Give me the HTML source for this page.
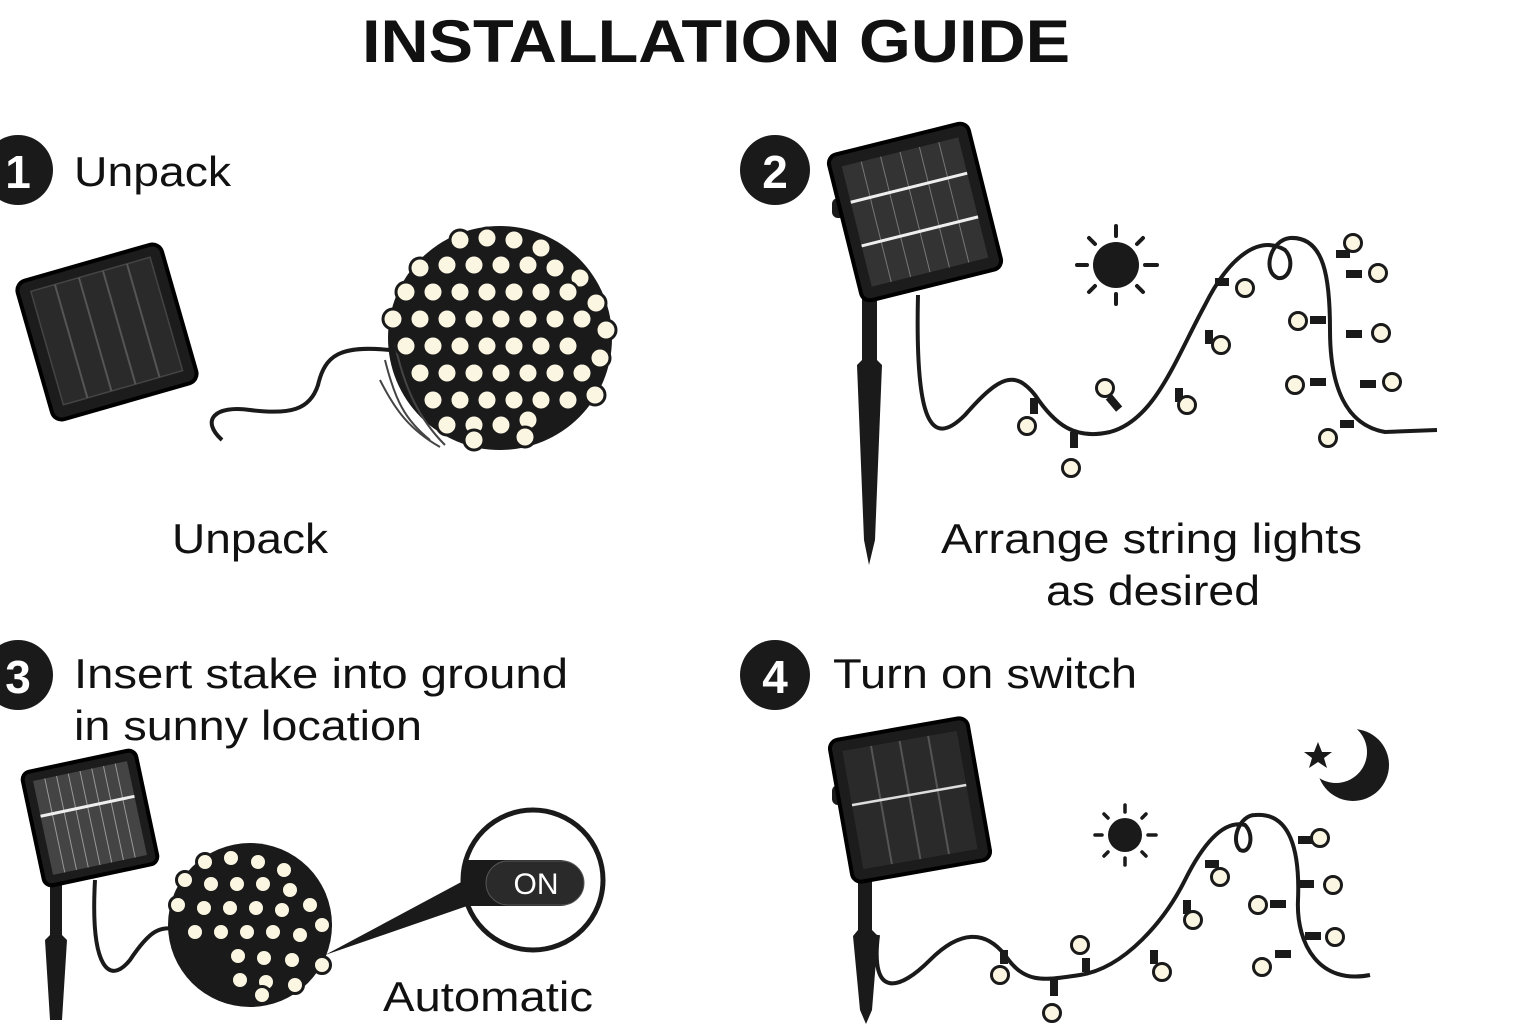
<!DOCTYPE html>
<html><head><meta charset="utf-8"><style>
html,body{margin:0;padding:0;background:#fff;}
svg{display:block;}
text{font-family:"Liberation Sans",Arial,sans-serif;fill:#111;}
</style></head><body>
<svg width="1536" height="1024" viewBox="0 0 1536 1024" xmlns="http://www.w3.org/2000/svg">
<defs>
<g id="bulb"><circle r="10" fill="#fbf6e2" stroke="#1a1a1a" stroke-width="3"/></g>
<g id="sb"><circle r="8.5" fill="#fbf6e2" stroke="#1a1a1a" stroke-width="3"/></g>
</defs>
<rect width="1536" height="1024" fill="#fff"/>
<text x="362" y="62" font-size="60" font-weight="bold" textLength="708" lengthAdjust="spacingAndGlyphs">INSTALLATION GUIDE</text>

<circle cx="18" cy="170" r="35" fill="#1a1a1a"/><text x="18" y="188" text-anchor="middle" font-size="46" style="fill:#fff" font-weight="bold">1</text>
<circle cx="775" cy="170" r="35" fill="#1a1a1a"/><text x="775" y="188" text-anchor="middle" font-size="46" style="fill:#fff" font-weight="bold">2</text>
<circle cx="18" cy="675" r="35" fill="#1a1a1a"/><text x="18" y="693" text-anchor="middle" font-size="46" style="fill:#fff" font-weight="bold">3</text>
<circle cx="775" cy="675" r="35" fill="#1a1a1a"/><text x="775" y="693" text-anchor="middle" font-size="46" style="fill:#fff" font-weight="bold">4</text>

<g font-size="42">
<text x="74" y="186" textLength="157" lengthAdjust="spacingAndGlyphs">Unpack</text>
<text x="172" y="553" textLength="156" lengthAdjust="spacingAndGlyphs">Unpack</text>
<text x="941" y="553" textLength="421" lengthAdjust="spacingAndGlyphs">Arrange string lights</text>
<text x="1046" y="605" textLength="214" lengthAdjust="spacingAndGlyphs">as desired</text>
<text x="74" y="688" textLength="494" lengthAdjust="spacingAndGlyphs">Insert stake into ground</text>
<text x="74" y="740" textLength="348" lengthAdjust="spacingAndGlyphs">in sunny location</text>
<text x="833" y="688" textLength="304" lengthAdjust="spacingAndGlyphs">Turn on switch</text>
<text x="383" y="1011" textLength="210" lengthAdjust="spacingAndGlyphs">Automatic</text>
</g>

<!-- Panel 1 -->
<g transform="translate(107,332) rotate(-16)">
<rect x="-75" y="-72" width="150" height="144" rx="10" fill="#1c1c1c" stroke="#000" stroke-width="4"/>
<rect x="-62" y="-60" width="124" height="118" fill="#2a2a2a" stroke="#444" stroke-width="1.5"/>
<g stroke="#555" stroke-width="2"><line x1="-37" y1="-60" x2="-37" y2="58"/><line x1="-12" y1="-60" x2="-12" y2="58"/><line x1="13" y1="-60" x2="13" y2="58"/><line x1="38" y1="-60" x2="38" y2="58"/></g>
</g>
<path d="M222,440 C200,420 215,405 250,410 C290,415 310,410 318,385 C325,355 340,345 390,350" fill="none" stroke="#1a1a1a" stroke-width="4"/>
<circle cx="500" cy="338" r="112" fill="#1a1a1a"/>
<g stroke="#444" stroke-width="2" fill="none"><path d="M385,360 C395,400 405,420 430,440"/><path d="M395,345 C405,390 420,420 445,445"/><path d="M380,380 C395,410 410,430 440,447"/></g>
<g>
<use href="#bulb" x="460" y="240"/><use href="#bulb" x="487" y="238"/><use href="#bulb" x="514" y="240"/><use href="#bulb" x="541" y="248"/>
<use href="#bulb" x="420" y="268"/><use href="#bulb" x="447" y="265"/><use href="#bulb" x="474" y="265"/><use href="#bulb" x="501" y="265"/><use href="#bulb" x="528" y="265"/><use href="#bulb" x="555" y="268"/><use href="#bulb" x="580" y="278"/>
<use href="#bulb" x="406" y="292"/><use href="#bulb" x="433" y="292"/><use href="#bulb" x="460" y="292"/><use href="#bulb" x="487" y="292"/><use href="#bulb" x="514" y="292"/><use href="#bulb" x="541" y="292"/><use href="#bulb" x="568" y="292"/><use href="#bulb" x="596" y="303"/>
<use href="#bulb" x="393" y="319"/><use href="#bulb" x="420" y="319"/><use href="#bulb" x="447" y="319"/><use href="#bulb" x="474" y="319"/><use href="#bulb" x="501" y="319"/><use href="#bulb" x="528" y="319"/><use href="#bulb" x="555" y="319"/><use href="#bulb" x="582" y="319"/><use href="#bulb" x="606" y="330"/>
<use href="#bulb" x="406" y="346"/><use href="#bulb" x="433" y="346"/><use href="#bulb" x="460" y="346"/><use href="#bulb" x="487" y="346"/><use href="#bulb" x="514" y="346"/><use href="#bulb" x="541" y="346"/><use href="#bulb" x="568" y="346"/><use href="#bulb" x="600" y="358"/>
<use href="#bulb" x="420" y="373"/><use href="#bulb" x="447" y="373"/><use href="#bulb" x="474" y="373"/><use href="#bulb" x="501" y="373"/><use href="#bulb" x="528" y="373"/><use href="#bulb" x="555" y="373"/><use href="#bulb" x="582" y="373"/>
<use href="#bulb" x="433" y="400"/><use href="#bulb" x="460" y="400"/><use href="#bulb" x="487" y="400"/><use href="#bulb" x="514" y="400"/><use href="#bulb" x="541" y="400"/><use href="#bulb" x="568" y="400"/><use href="#bulb" x="595" y="395"/>
<use href="#bulb" x="447" y="425"/><use href="#bulb" x="474" y="425"/><use href="#bulb" x="501" y="425"/><use href="#bulb" x="528" y="420"/><use href="#bulb" x="474" y="440"/><use href="#bulb" x="525" y="437"/>
</g>

<!-- Panel 2 -->
<path d="M862,200 L877,200 L877,360 L882,365 L875,540 L869,565 L864,540 L857,365 L862,360 Z" fill="#1a1a1a"/>
<rect x="832" y="198" width="20" height="20" rx="6" fill="#1a1a1a"/>
<g transform="translate(915,212) rotate(-14)">
<rect x="-72" y="-75" width="144" height="150" rx="9" fill="#1c1c1c" stroke="#000" stroke-width="4"/>
<rect x="-60" y="-62" width="120" height="124" fill="#333"/>
<g stroke="#777" stroke-width="1"><line x1="-40" y1="-62" x2="-40" y2="62"/><line x1="-20" y1="-62" x2="-20" y2="62"/><line x1="0" y1="-62" x2="0" y2="62"/><line x1="20" y1="-62" x2="20" y2="62"/><line x1="40" y1="-62" x2="40" y2="62"/></g>
<line x1="-60" y1="-25" x2="60" y2="-25" stroke="#eee" stroke-width="3"/><line x1="-60" y1="20" x2="60" y2="20" stroke="#eee" stroke-width="3"/>
</g>
<path d="M918,295 C915,420 930,450 965,415 C1000,375 1015,370 1035,395 C1055,425 1075,440 1110,432 C1155,420 1175,360 1205,305 C1230,255 1260,235 1285,250 C1295,260 1290,280 1278,278 C1262,272 1270,240 1290,238 C1325,236 1330,280 1330,330 C1330,385 1345,425 1385,432 L1437,430" fill="none" stroke="#1a1a1a" stroke-width="4"/>
<g fill="#1a1a1a"><rect x="1110" y="395" width="8" height="16" transform="rotate(-40 1114 403)"/><rect x="1030" y="398" width="8" height="16"/><rect x="1070" y="432" width="8" height="16"/><rect x="1175" y="388" width="8" height="14"/><rect x="1205" y="330" width="8" height="14"/><rect x="1215" y="278" width="14" height="8"/><rect x="1310" y="316" width="16" height="8"/><rect x="1310" y="378" width="16" height="8"/><rect x="1336" y="250" width="14" height="8"/><rect x="1346" y="270" width="16" height="8"/><rect x="1346" y="330" width="16" height="8"/><rect x="1360" y="380" width="16" height="8"/><rect x="1340" y="420" width="14" height="8"/></g>
<g>
<use href="#sb" x="1027" y="426"/><use href="#sb" x="1071" y="468"/><use href="#sb" x="1105" y="388"/><use href="#sb" x="1187" y="405"/><use href="#sb" x="1221" y="345"/><use href="#sb" x="1245" y="288"/><use href="#sb" x="1298" y="321"/><use href="#sb" x="1295" y="385"/><use href="#sb" x="1328" y="438"/><use href="#sb" x="1353" y="243"/><use href="#sb" x="1378" y="273"/><use href="#sb" x="1381" y="333"/><use href="#sb" x="1392" y="382"/>
</g>
<circle cx="1116" cy="265" r="23" fill="#1a1a1a"/>
<g stroke="#1a1a1a" stroke-width="4" stroke-linecap="round"><line x1="1116" y1="226" x2="1116" y2="236"/><line x1="1116" y1="294" x2="1116" y2="304"/><line x1="1077" y1="265" x2="1087" y2="265"/><line x1="1145" y1="265" x2="1157" y2="265"/><line x1="1089" y1="238" x2="1095" y2="244"/><line x1="1137" y1="286" x2="1143" y2="292"/><line x1="1143" y1="238" x2="1137" y2="244"/><line x1="1089" y1="292" x2="1095" y2="286"/></g>

<!-- Panel 3 -->
<path d="M50,830 L62,830 L62,935 L67,940 L62,1020 L50,1020 L45,940 L50,935 Z" fill="#1a1a1a"/>
<g transform="translate(90,818) rotate(-12)">
<rect x="-58" y="-58" width="116" height="116" rx="8" fill="#1c1c1c" stroke="#000" stroke-width="4"/>
<rect x="-48" y="-48" width="96" height="96" fill="#444"/>
<g stroke="#999" stroke-width="1"><line x1="-36" y1="-48" x2="-36" y2="48"/><line x1="-24" y1="-48" x2="-24" y2="48"/><line x1="-12" y1="-48" x2="-12" y2="48"/><line x1="0" y1="-48" x2="0" y2="48"/><line x1="12" y1="-48" x2="12" y2="48"/><line x1="24" y1="-48" x2="24" y2="48"/><line x1="36" y1="-48" x2="36" y2="48"/></g>
<line x1="-48" y1="-12" x2="48" y2="-12" stroke="#eee" stroke-width="3"/>
</g>
<path d="M95,880 C90,970 110,985 130,960 C150,930 160,925 180,930" fill="none" stroke="#1a1a1a" stroke-width="4"/>
<circle cx="250" cy="925" r="82" fill="#1a1a1a"/>
<polygon points="325,955 465,880 470,905" fill="#1a1a1a"/>
<g>
<use href="#sb" x="205" y="862"/><use href="#sb" x="231" y="858"/><use href="#sb" x="258" y="862"/><use href="#sb" x="284" y="870"/>
<use href="#sb" x="185" y="880"/><use href="#sb" x="211" y="884"/><use href="#sb" x="237" y="884"/><use href="#sb" x="263" y="884"/><use href="#sb" x="290" y="890"/><use href="#sb" x="310" y="905"/>
<use href="#sb" x="178" y="905"/><use href="#sb" x="204" y="908"/><use href="#sb" x="230" y="908"/><use href="#sb" x="256" y="908"/><use href="#sb" x="282" y="910"/><use href="#sb" x="322" y="925"/>
<use href="#sb" x="195" y="932"/><use href="#sb" x="221" y="932"/><use href="#sb" x="247" y="932"/><use href="#sb" x="273" y="932"/><use href="#sb" x="300" y="935"/>
<use href="#sb" x="238" y="956"/><use href="#sb" x="264" y="958"/><use href="#sb" x="292" y="960"/><use href="#sb" x="322" y="965"/>
<use href="#sb" x="240" y="980"/><use href="#sb" x="266" y="982"/><use href="#sb" x="295" y="985"/><use href="#sb" x="262" y="995"/>
</g>
<circle cx="533" cy="880" r="70" fill="#fff" stroke="#1a1a1a" stroke-width="5"/>
<path d="M465,860 L560,860 A23,23 0 0 1 560,906 L465,906 Z" fill="#1a1a1a"/>
<rect x="486" y="861" width="98" height="44" rx="22" fill="#2a2a2a" stroke="#555"/>
<text x="536" y="894" text-anchor="middle" font-size="30" style="fill:#fff">ON</text>

<!-- Panel 4 -->
<path d="M858,800 L872,800 L872,930 L878,936 L872,1010 L866,1024 L860,1010 L853,936 L858,930 Z" fill="#1a1a1a"/>
<rect x="832" y="785" width="18" height="20" rx="6" fill="#1a1a1a"/>
<g transform="translate(910,800) rotate(-10)">
<rect x="-70" y="-72" width="140" height="144" rx="9" fill="#1c1c1c" stroke="#000" stroke-width="4"/>
<rect x="-58" y="-60" width="116" height="120" fill="#2a2a2a"/>
<g stroke="#555" stroke-width="2"><line x1="-29" y1="-60" x2="-29" y2="60"/><line x1="0" y1="-60" x2="0" y2="60"/><line x1="29" y1="-60" x2="29" y2="60"/></g>
<line x1="-58" y1="-5" x2="58" y2="-5" stroke="#ddd" stroke-width="2.5"/>
</g>
<path d="M878,935 C870,1000 900,990 930,960 C960,930 985,930 1005,955 C1025,985 1045,980 1080,975 C1125,968 1165,920 1185,880 C1205,840 1225,820 1245,825 C1255,835 1250,855 1240,850 C1230,840 1240,815 1255,815 C1290,812 1300,850 1298,900 C1296,945 1320,985 1370,975" fill="none" stroke="#1a1a1a" stroke-width="4"/>
<g fill="#1a1a1a"><rect x="1000" y="950" width="8" height="14"/><rect x="1050" y="980" width="8" height="16"/><rect x="1082" y="958" width="8" height="14"/><rect x="1150" y="950" width="8" height="14"/><rect x="1183" y="900" width="8" height="14"/><rect x="1205" y="860" width="14" height="8"/><rect x="1270" y="900" width="16" height="8"/><rect x="1275" y="950" width="16" height="8"/><rect x="1298" y="836" width="16" height="8"/><rect x="1298" y="880" width="16" height="8"/><rect x="1305" y="932" width="16" height="8"/></g>
<g>
<use href="#sb" x="1000" y="975"/><use href="#sb" x="1052" y="1013"/><use href="#sb" x="1080" y="945"/><use href="#sb" x="1162" y="972"/><use href="#sb" x="1193" y="920"/><use href="#sb" x="1220" y="877"/><use href="#sb" x="1258" y="905"/><use href="#sb" x="1262" y="967"/><use href="#sb" x="1320" y="838"/><use href="#sb" x="1333" y="885"/><use href="#sb" x="1335" y="937"/>
</g>
<circle cx="1125" cy="835" r="17" fill="#1a1a1a"/>
<g stroke="#1a1a1a" stroke-width="3.5" stroke-linecap="round"><line x1="1125" y1="805" x2="1125" y2="812"/><line x1="1125" y1="858" x2="1125" y2="865"/><line x1="1095" y1="835" x2="1102" y2="835"/><line x1="1148" y1="835" x2="1156" y2="835"/><line x1="1104" y1="814" x2="1108" y2="818"/><line x1="1142" y1="852" x2="1146" y2="856"/><line x1="1146" y1="814" x2="1142" y2="818"/><line x1="1104" y1="856" x2="1108" y2="852"/></g>
<circle cx="1353" cy="765" r="36" fill="#1a1a1a"/>
<circle cx="1336" cy="752" r="31" fill="#fff"/>
<polygon points="1318,742 1322,752 1332,752 1324,758 1327,768 1318,762 1309,768 1312,758 1304,752 1314,752" fill="#1a1a1a"/>
</svg>
</body></html>
